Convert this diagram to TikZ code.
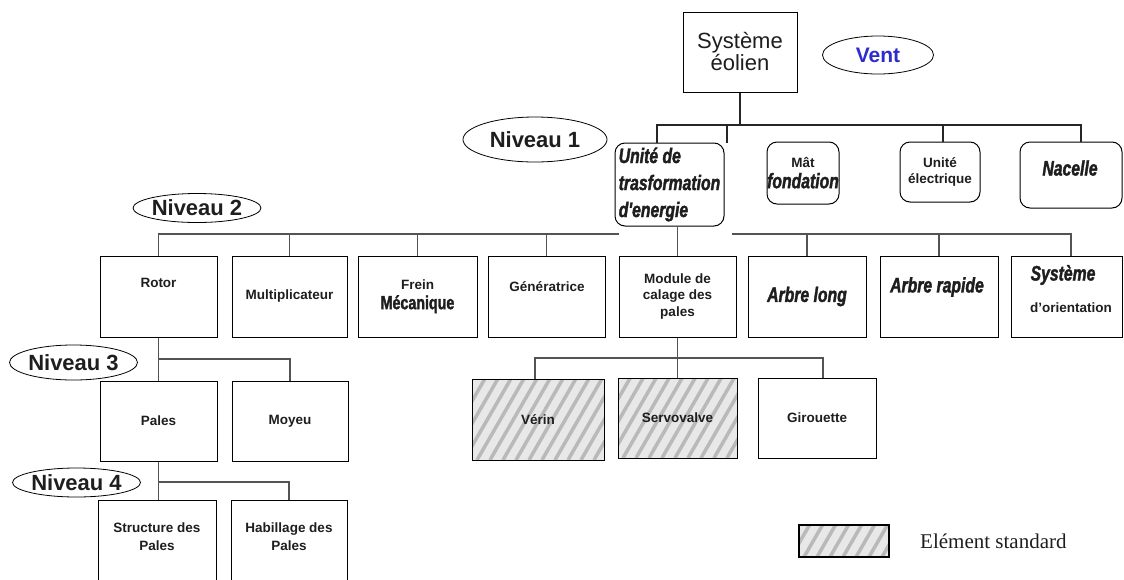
\documentclass[tikz,border=0pt]{standalone}
\usepackage{fontspec}
\setmainfont{Liberation Sans}
\newfontfamily\serifont{Liberation Serif}
\newfontfamily\condfont[FakeStretch=0.75,FakeBold=1.6]{Liberation Sans}
\usetikzlibrary{shapes.geometric}
\definecolor{ventblue}{RGB}{45,45,205}
\definecolor{txt}{RGB}{30,30,30}
\newcommand{\fancy}{\condfont\bfseries\itshape\fontsize{21}{27}\selectfont}
\newcommand{\narrowbf}{\condfont\bfseries\fontsize{19}{22}\selectfont}

\begin{document}
\begin{tikzpicture}[x=1pt, y=-1pt,
  box/.style={draw, line width=1pt, fill=white, inner sep=0pt, align=center, text=txt,
    minimum width=117, minimum height=81, font=\bfseries\fontsize{13.5}{16.5}\selectfont},
  rbox/.style={box, rounded corners=10pt},
  hatchbox/.style={box, fill=gray!18, path picture={
    \foreach \i in {-60,-47,...,140}
      \draw[gray!55, line width=3.5pt] ([xshift=\i pt]path picture bounding box.south west) -- ++(60:170pt);}},
  lbl/.style={inner sep=0pt, align=center, text=txt, font=\bfseries\fontsize{13.5}{18}\selectfont},
  niveau/.style={ellipse, draw, line width=0.8pt, inner sep=0pt, text=txt, font=\bfseries\fontsize{22}{24}\selectfont},
  link/.style={draw=gray!65!black, line width=1.1pt},
  link1/.style={draw=black!85, line width=1.1pt},
]
  \useasboundingbox (0,0) rectangle (1124,579);
  \clip (0,0) rectangle (1124,579);

  % top
  \node[box, font=\fontsize{22}{22}\selectfont, minimum width=114, minimum height=80] (sys) at (740,52) {Système\\éolien};
  \node[ellipse, draw, line width=0.8pt, inner sep=0pt, minimum width=111, minimum height=38,
    text=ventblue, font=\bfseries\fontsize{21}{24}\selectfont] (vent) at (878,55) {Vent};

  % niveau 1
  \node[niveau, minimum width=144, minimum height=45] (niv1) at (535,139.5) {Niveau 1};
  \node[rbox, minimum width=109, minimum height=83, align=left, font=\fancy] (unite) at (669.5,184.5) {Unité de\\trasformation\\d'energie};
  \node[rbox, minimum width=72, minimum height=62] (mat) at (803,173) {Mât\\[4pt]{\fancy fondation}};
  \node[rbox, minimum width=80, minimum height=60] (elec) at (940,172) {Unité\\électrique};
  \node[rbox, minimum width=102, minimum height=66, font=\fancy] (nacelle) at (1071,175) {};
  \node[lbl, font=\fancy] (nacelle-lbl) at (1070,168) {Nacelle};

  \coordinate (bus1) at (740,125);
  \coordinate (matdrop) at (727,143);
  \draw[link1] (sys.south) -- (bus1);
  \draw[link1] ([xshift=-12.5pt]unite.north) |- (bus1);
  \draw[link1] (matdrop) |- (bus1);
  \draw[link1] ([xshift=3pt]elec.north) |- (bus1);
  \draw[link1] ([xshift=10pt]nacelle.north) |- (bus1);

  % niveau 2
  \node[niveau, minimum width=127, minimum height=29] (niv2) at (197,208) {Niveau 2};
  \node[box] (rotor) at (158.5,296.5) {};
  \node[lbl] (rotor-lbl) at (158.5,283) {Rotor};
  \node[box, minimum width=115] (multi) at (289.5,296.5) {Multiplicateur};
  \node[box, minimum width=119] (frein) at (417.5,296.5) {Frein\\[3pt]{\narrowbf Mécanique}};
  \node[box] (gen) at (546.5,296.5) {};
  \node[lbl] (gen-lbl) at (547,287) {Génératrice};
  \node[box] (module) at (677.5,296.5) {Module de\\calage des\\pales};
  \node[box, minimum width=118, font=\fancy] (along) at (807,296.5) {Arbre long};
  \node[box, minimum width=118] (arap) at (939,296.5) {};
  \node[lbl, font=\fancy] (arap-lbl) at (937,287) {Arbre rapide};
  \node[box, minimum width=111] (orient) at (1066.5,296.5) {};
  \node[lbl, font=\fancy] (orient-lbl1) at (1063,275) {Système};
  \node[lbl] (orient-lbl2) at (1071,308) {d'orientation};

  \coordinate (bus2l) at (619,234);
  \coordinate (bus2r) at (732,234);
  \draw[link] (module.north) -- (module.north |- unite.south);
  \draw[link] (rotor.north) |- (bus2l);
  \draw[link] (multi.north) |- (bus2l);
  \draw[link] (frein.north) |- (bus2l);
  \draw[link] (gen.north) |- (bus2l);
  \draw[link] (along.north) |- (bus2r);
  \draw[link] (arap.north) |- (bus2r);
  \draw[link] ([xshift=4.5pt]orient.north) |- (bus2r);

  % niveau 3
  \node[niveau, minimum width=127, minimum height=35] (niv3) at (73.5,362.5) {Niveau 3};
  \node[box, minimum height=80] (pales) at (158.5,421) {Pales};
  \node[box, minimum width=116, minimum height=80] (moyeu) at (290,421) {Moyeu};

  \coordinate (bus3) at (158.5,359);
  \draw[link] (rotor.south) -- (pales.north);
  \draw[link] (moyeu.north) |- (bus3);

  % niveau 4
  \node[niveau, minimum width=121, minimum height=29] (niv4) at (76.5,482.5) {Niveau 4};
  \node[box, minimum width=118, minimum height=90] (struct) at (157,545) {};
  \node[lbl] (struct-lbl) at (157,537) {Structure des\\Pales};
  \node[box, minimum width=116, minimum height=90] (habil) at (289,545) {};
  \node[lbl] (habil-lbl) at (289,537) {Habillage des\\Pales};

  \coordinate (bus4) at (158.5,482);
  \draw[link] (pales.south) -- (pales.south |- struct.north);
  \draw[link] (habil.north) |- (bus4);

  % calage des pales
  \node[hatchbox, minimum width=132] (verin) at (538,419.5) {Vérin};
  \node[hatchbox, minimum width=119, minimum height=80] (servo) at (677.5,418) {Servovalve};
  \node[box, minimum width=118, minimum height=80] (girou) at (817,418) {Girouette};

  \coordinate (bus5) at (677.5,358);
  \draw[link] (module.south) -- (servo.north);
  \draw[link] ([xshift=-3pt]verin.north) |- (bus5);
  \draw[link] ([xshift=6pt]girou.north) |- (bus5);

  % legende
  \node[hatchbox, minimum width=90, minimum height=32, line width=2.5pt] (legend) at (844,541) {};
  \node[inner sep=0pt, anchor=west, text=txt, font=\serifont\fontsize{21}{24}\selectfont] (legend-lbl) at (920,541) {Elément standard};
\end{tikzpicture}
\end{document}
